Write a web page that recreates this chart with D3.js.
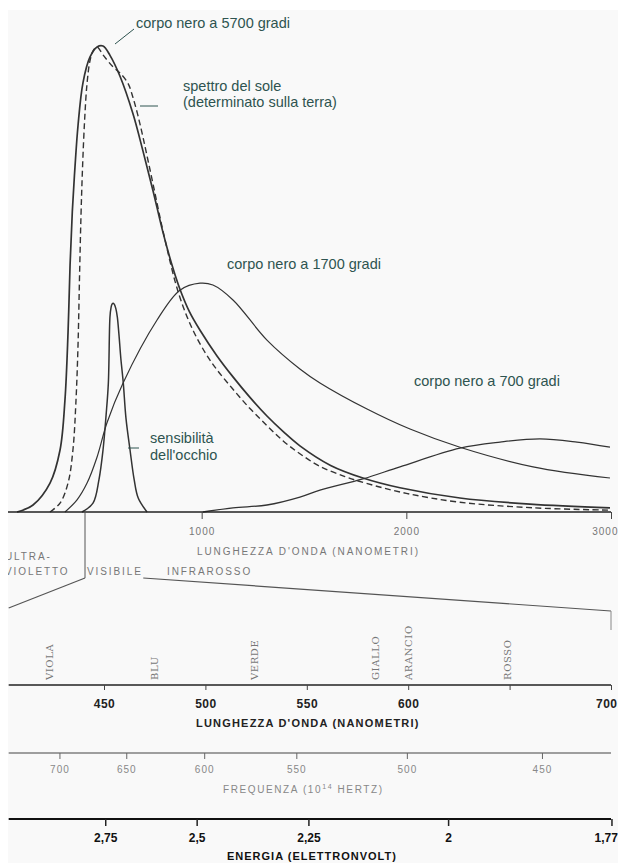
<!DOCTYPE html>
<html><head><meta charset="utf-8">
<script src="https://cdn.jsdelivr.net/npm/d3@7"></script>
<style>
body{margin:0;background:#fff}
svg{display:block}
</style>
</head><body>
<svg id="c" width="618" height="863"></svg>
<script>
// ---------- DATA (wavelength nm, relative intensity) ----------
const bb5700 = [[98,0],[176,1.5],[259,6.2],[308,13.3],[332,24.0],[347,38.4],[357,53],[368,64.5],[381,74],[396,83],[420,92.1],[454,97.6],[489,99.8],[518,100],[552,98],[601,93.5],[664,85.5],[713,77.5],[762,69],[811,60],[855,53],[894,47.8],[940,43],[992,39],[1075,33.5],[1153,29],[1236,24.6],[1319,20.6],[1400,17.2],[1480,14.2],[1630,10],[1788,7.3],[1969,5.2],[2262,3.0],[2604,1.7],[2995,0.9]];
const solarSpectrum = [[259,0],[308,1.9],[347,6.2],[371,13.3],[386,24],[396,36],[403,50],[410,63],[418,74],[428,84],[440,92],[455,97],[470,99],[489,99.8],[518,98.1],[567,95.5],[601,94.2],[640,92],[664,89],[689,85],[713,80.5],[740,75],[770,68.8],[800,62.5],[831,56.5],[870,49.5],[910,44],[960,38.8],[1020,34],[1075,30.5],[1150,26.5],[1236,22.2],[1320,18.5],[1397,15.3],[1480,12.5],[1578,9.8],[1700,7.6],[1800,6.2],[2000,4.0],[2262,2.1],[2619,0.9],[2995,0.4]];
const bb1700 = [[332,0],[391,2.6],[440,6.2],[489,11.8],[537,19.1],[616,27.7],[782,41.2],[894,47.6],[992,49.1],[1055,48.7],[1153,45.5],[1319,36.9],[1480,30.7],[1578,27.7],[1808,22.1],[2018,17.8],[2262,13.9],[2619,9.7],[2995,7.3]];
const bb700 = [[1006,0],[1153,0.9],[1319,1.5],[1480,3.2],[1578,4.7],[1788,7.1],[1969,9.7],[2262,13.7],[2458,15.0],[2653,15.7],[2834,15.0],[2995,13.9]];
const eyeSensitivity = [[415,0],[469,1.9],[498,6.9],[518,13.3],[533,20.8],[544,27.6],[552,41.9],[557,43.8],[562,44.6],[568,44.8],[574,44.5],[581,43.6],[588,41.8],[596,38],[605,33],[617,27.7],[630,20.2],[650,13.3],[670,7],[690,3],[733,0]];

const topTicks = [1000, 2000, 3000];
const visibleBand = [430, 700];
const lowerBand = [403, 700];
const colorNames = ["VIOLA","BLU","VERDE","GIALLO","ARANCIO","ROSSO"];
const colorWavelengths = [423, 475, 524, 584, 600, 649];
const waveTicks = [450, 500, 550, 600, 650, 700];
const waveTickLabels = ["450","500","550","600","","700"];
const freqTicks = [700, 650, 600, 550, 500, 450];
const energyTicks = [2.75, 2.5, 2.25, 2, 1.77];
const energyTickLabels = ["2,75","2,5","2,25","2","1,77"];

// ---------- DRAW ----------
const svg = d3.select("#c");
svg.append("rect").attr("x",8).attr("y",10).attr("width",610).attr("height",853).attr("fill","#f9f9f9");

const x = d3.scaleLinear().domain([0,3000]).range([-3,611]);
const y = d3.scaleLinear().domain([0,100]).range([512,46]);
const xw = d3.scaleLinear().domain([450,700]).range([104,611]);
const fx = f => xw(299792.458 / f);
const ex = e => xw(1239.84 / e);

const line = d3.line().x(d=>x(d[0])).y(d=>y(d[1])).curve(d3.curveCatmullRom.alpha(0.5));
const ink = "#333";
const labelCol = "#2e5450";

function curve(data, w, dash, col){
  svg.append("path").attr("d", line(data)).attr("fill","none")
    .attr("stroke", col||ink).attr("stroke-width", w)
    .attr("stroke-dasharray", dash||null).attr("stroke-linejoin","round");
}
curve(bb700, 1.3);
curve(bb1700, 1.2);
curve(eyeSensitivity, 1.5);
curve(solarSpectrum, 1.4, "6,3.5");
curve(bb5700, 1.7);

// top baseline axis
svg.append("line").attr("x1",8).attr("x2",x(3000)).attr("y1",y(0)).attr("y2",y(0)).attr("stroke","#222").attr("stroke-width",1.6);
const topAxis = svg.append("g").attr("transform",`translate(0,${y(0)})`)
  .call(d3.axisBottom(x).tickValues(topTicks).tickSize(7).tickSizeOuter(0).tickFormat(d3.format("d")));
topAxis.select(".domain").remove();
topAxis.selectAll("line").attr("stroke","#444");
topAxis.selectAll("text").attr("dy",null).attr("y",23)
  .attr("font-family","Liberation Sans, Arial, sans-serif").attr("font-size",10).attr("fill","#777").attr("letter-spacing",1);
topAxis.selectAll("text").filter(d=>d===3000).attr("text-anchor","end").attr("x",7);

const smallFont = "Liberation Sans, Arial, sans-serif";
function txt(s, tx, ty, opts){
  const t = svg.append("text").attr("x",tx).attr("y",ty).text(s)
    .attr("font-family", opts.family||smallFont).attr("font-size", opts.size)
    .attr("fill", opts.fill).attr("font-weight", opts.weight||null)
    .attr("letter-spacing", opts.ls||null).attr("text-anchor", opts.anchor||null);
  return t;
}
const grayOpts = {size:10, fill:"#777", ls:1.9};
txt("LUNGHEZZA D'ONDA (NANOMETRI)", 197, 555, grayOpts);
txt("ULTRA-", 5, 560, grayOpts);
txt("VIOLETTO", 5, 575, grayOpts);
txt("VISIBILE", x(visibleBand[0])+2, 575, grayOpts);
txt("INFRAROSSO", 167, 575, grayOpts);
// white scan margin at left
svg.append("rect").attr("x",0).attr("y",0).attr("width",8).attr("height",863).attr("fill","#fff");

// visible band connectors
const lk = "#555";
svg.append("line").attr("x1",x(visibleBand[0])).attr("x2",x(visibleBand[0])).attr("y1",y(0)).attr("y2",578).attr("stroke",lk).attr("stroke-width",1);
svg.append("line").attr("x1",x(visibleBand[0])).attr("y1",578).attr("x2",xw(lowerBand[0])).attr("y2",608).attr("stroke",lk).attr("stroke-width",1.2);
svg.append("line").attr("x1",x(visibleBand[1])+3).attr("y1",578).attr("x2",xw(lowerBand[1])).attr("y2",611).attr("stroke",lk).attr("stroke-width",1.2);
svg.append("line").attr("x1",xw(lowerBand[1])).attr("y1",611).attr("x2",xw(lowerBand[1])).attr("y2",630).attr("stroke","#888").attr("stroke-width",1);

// top chart labels
const lblOpts = {size:14.5, fill:labelCol};
txt("corpo nero a 5700 gradi", 136, 28, lblOpts);
txt("spettro del sole", 183, 91, lblOpts);
txt("(determinato sulla terra)", 183, 107, lblOpts);
txt("corpo nero a 1700 gradi", 227, 269, lblOpts);
txt("corpo nero a 700 gradi", 414, 386, lblOpts);
txt("sensibilità", 150, 443, lblOpts);
txt("dell'occhio", 150, 460, lblOpts);
svg.append("line").attr("x1",115).attr("y1",44).attr("x2",134).attr("y2",29).attr("stroke",labelCol).attr("stroke-width",1);
svg.append("line").attr("x1",140).attr("y1",106).attr("x2",158).attr("y2",106).attr("stroke",labelCol).attr("stroke-width",1);
svg.append("line").attr("x1",128).attr("y1",448).attr("x2",139).attr("y2",448).attr("stroke",labelCol).attr("stroke-width",1);

// colour names (rotated)
colorNames.forEach((n,i)=>{
  svg.append("text").text(n)
    .attr("transform",`translate(${xw(colorWavelengths[i])},680) rotate(-90)`)
    .attr("dy","0.36em")
    .attr("font-family","DejaVu Serif, Liberation Serif, serif").attr("font-size",10)
    .attr("fill","#777").attr("letter-spacing",0.6);
});

// lower wavelength axis
const wy = 685;
svg.append("line").attr("x1",xw(lowerBand[0])).attr("x2",xw(lowerBand[1])).attr("y1",wy).attr("y2",wy).attr("stroke","#222").attr("stroke-width",1.5);
const wAxis = svg.append("g").attr("transform",`translate(0,${wy})`)
  .call(d3.axisBottom(xw).tickValues(waveTicks).tickSize(5).tickSizeOuter(0).tickFormat((d,i)=>waveTickLabels[i]));
wAxis.select(".domain").remove();
wAxis.selectAll("line").attr("stroke","#444");
wAxis.selectAll("text").attr("dy",null).attr("y",23)
  .attr("font-family",smallFont).attr("font-size",12).attr("font-weight","bold").attr("fill","#222").attr("letter-spacing",0.5);
wAxis.selectAll("text").filter(d=>d===700).attr("text-anchor","end").attr("x",6);
txt("LUNGHEZZA D'ONDA (NANOMETRI)", 196, 727, {size:11, fill:"#222", weight:"bold", ls:1.2});

// frequency axis
const fy = 753;
svg.append("line").attr("x1",xw(lowerBand[0])).attr("x2",xw(lowerBand[1])).attr("y1",fy).attr("y2",fy).attr("stroke","#444").attr("stroke-width",1.2);
const fAxis = svg.append("g").attr("transform",`translate(0,${fy})`);
fAxis.selectAll("g").data(freqTicks).join("g").attr("transform",d=>`translate(${fx(d)},0)`)
  .each(function(d){
    const g = d3.select(this);
    g.append("line").attr("y2",6).attr("stroke","#666");
    g.append("text").attr("y",20).attr("text-anchor","middle").text(d)
      .attr("font-family",smallFont).attr("font-size",10).attr("fill","#888").attr("letter-spacing",1);
  });
const ft = txt("FREQUENZA (10", 223, 793, {size:10, fill:"#888", ls:1.6});
ft.append("tspan").attr("dy",-4).attr("font-size",7).text("14");
ft.append("tspan").attr("dy",4).text(" HERTZ)");

// energy axis
const eyy = 819;
svg.append("line").attr("x1",xw(lowerBand[0])).attr("x2",xw(lowerBand[1])).attr("y1",eyy).attr("y2",eyy).attr("stroke","#111").attr("stroke-width",2);
const eAxis = svg.append("g").attr("transform",`translate(0,${eyy})`);
eAxis.selectAll("g").data(energyTicks).join("g").attr("transform",d=>`translate(${ex(d)},0)`)
  .each(function(d,i){
    const g = d3.select(this);
    g.append("line").attr("y2",7).attr("stroke","#222").attr("stroke-width",1.5);
    g.append("text").attr("y",23).attr("text-anchor", i===energyTicks.length-1 ? "end":"middle")
      .attr("x", i===energyTicks.length-1 ? 6 : 0).text(energyTickLabels[i])
      .attr("font-family",smallFont).attr("font-size",12).attr("font-weight","bold").attr("fill","#111");
  });
txt("ENERGIA (ELETTRONVOLT)", 227, 860, {size:11, fill:"#111", weight:"bold", ls:1.0});
</script>
</body></html>
